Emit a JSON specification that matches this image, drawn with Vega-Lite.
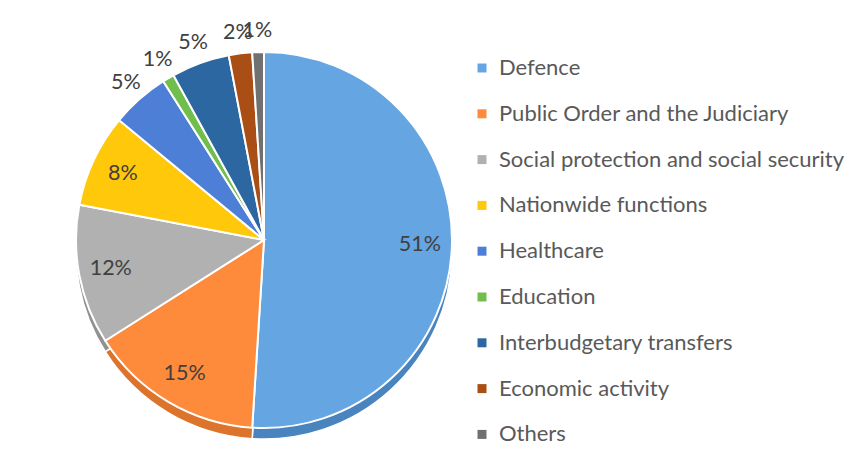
{
  "$schema": "https://vega.github.io/schema/vega-lite/v6.json",
  "autosize": "none",
  "width": 528,
  "height": 444,
  "padding": {"left": 0, "top": 18, "right": 325, "bottom": 0},
  "background": "white",
  "config": {"view": {"stroke": null}},
  "data": {
    "values": [
      {"idx": 1, "category": "Defence", "value": 0.51},
      {"idx": 2, "category": "Public Order and the Judiciary", "value": 0.15},
      {"idx": 3, "category": "Social protection and social security", "value": 0.12},
      {"idx": 4, "category": "Nationwide functions", "value": 0.08},
      {"idx": 5, "category": "Healthcare", "value": 0.05},
      {"idx": 6, "category": "Education", "value": 0.01},
      {"idx": 7, "category": "Interbudgetary transfers", "value": 0.05},
      {"idx": 8, "category": "Economic activity", "value": 0.02},
      {"idx": 9, "category": "Others", "value": 0.01}
    ]
  },
  "encoding": {
    "theta": {"field": "value", "type": "quantitative", "stack": true},
    "order": {"field": "idx", "type": "quantitative"}
  },
  "layer": [
    {
      "mark": {"type": "arc", "outerRadius": 188, "yOffset": 11, "stroke": "white", "strokeWidth": 1.5},
      "encoding": {
        "color": {
          "field": "category", "type": "nominal",
          "scale": {
            "domain": ["Defence", "Public Order and the Judiciary", "Social protection and social security", "Nationwide functions", "Healthcare", "Education", "Interbudgetary transfers", "Economic activity", "Others"],
            "range": ["#4A84BF", "#DD742C", "#919191", "#D9A800", "#3D66B0", "#5A9A3B", "#234F7C", "#823A0E", "#505050"]
          },
          "legend": null
        }
      }
    },
    {
      "mark": {"type": "arc", "outerRadius": 188, "stroke": "white", "strokeWidth": 2},
      "encoding": {
        "color": {
          "field": "category", "type": "nominal",
          "scale": {
            "domain": ["Defence", "Public Order and the Judiciary", "Social protection and social security", "Nationwide functions", "Healthcare", "Education", "Interbudgetary transfers", "Economic activity", "Others"],
            "range": ["#64A5E2", "#FE8A3C", "#B1B1B1", "#FFC80A", "#4D7FD6", "#70BE4B", "#2D67A1", "#A94E14", "#707070"]
          },
          "legend": {
            "title": null,
            "orient": "none",
            "legendX": 471,
            "legendY": 39,
            "padding": 0,
            "symbolType": "square",
            "symbolSize": 81,
            "symbolStrokeWidth": 0,
            "labelFont": "Lato",
            "labelFontSize": 22,
            "labelColor": "#595959",
            "labelOffset": 6,
            "rowPadding": 23.8,
            "labelLimit": 400
          }
        }
      }
    },
    {
      "mark": {"type": "text", "radius": 156, "font": "Lato", "fontSize": 21.5, "fill": "#404040"},
      "encoding": {
        "text": {"condition": {"test": "datum.value >= 0.08", "field": "value", "type": "quantitative", "format": ".0%"}, "value": ""}
      }
    },
    {
      "mark": {"type": "text", "radius": 209, "font": "Lato", "fontSize": 21.5, "fill": "#404040"},
      "encoding": {
        "text": {"condition": {"test": "datum.value < 0.08", "field": "value", "type": "quantitative", "format": ".0%"}, "value": ""}
      }
    }
  ],
  "resolve": {"scale": {"color": "independent"}}
}
